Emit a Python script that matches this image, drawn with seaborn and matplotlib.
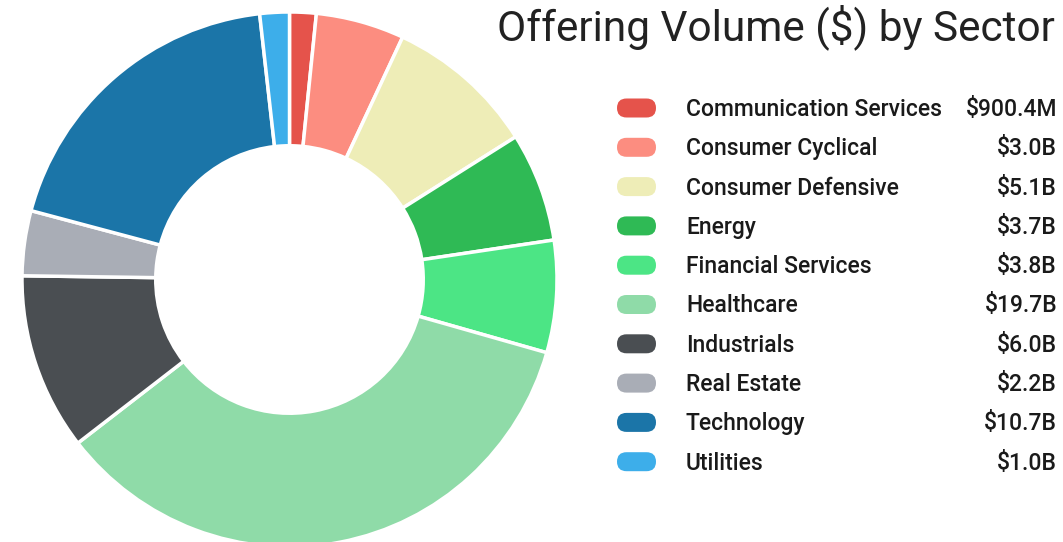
import matplotlib
matplotlib.use("Agg")
import matplotlib.pyplot as plt
import seaborn as sns
from matplotlib.patches import FancyBboxPatch

sns.set_theme(style="white")
plt.rcParams["font.family"] = ["Roboto", "DejaVu Sans"]

# Data
sectors = ["Communication Services", "Consumer Cyclical", "Consumer Defensive",
           "Energy", "Financial Services", "Healthcare", "Industrials",
           "Real Estate", "Technology", "Utilities"]
volume_b = [0.9004, 3.0, 5.1, 3.7, 3.8, 19.7, 6.0, 2.2, 10.7, 1.0]
labels = ["$900.4M", "$3.0B", "$5.1B", "$3.7B", "$3.8B",
          "$19.7B", "$6.0B", "$2.2B", "$10.7B", "$1.0B"]
colors = sns.color_palette(["#e5534b", "#fc8d80", "#eeedb7", "#2fba55", "#4ce585",
                            "#8fdba8", "#4a4e52", "#a9adb6", "#1b75a8", "#3daeea"])

W, H = 1063, 542
fig = plt.figure(figsize=(W / 100, H / 100), dpi=100)
fig.patch.set_facecolor("white")

# donut, center (289.5, 279.5) px, radius 267.5 px
cx, cy, r = 289.5, 279.5, 267.5
ax = fig.add_axes([(cx - r) / W, (H - cy - r) / H, 2 * r / W, 2 * r / H])
ax.pie(volume_b, colors=colors, startangle=90, counterclock=False, radius=1,
       wedgeprops=dict(width=0.5, edgecolor="white", linewidth=2.5))
ax.set_xlim(-1, 1)
ax.set_ylim(-1, 1)
ax.set_aspect("equal")
ax.axis("off")

# title
fig.text(1055 / W, 1 - 27 / H, "Offering Volume ($) by Sector",
         ha="right", va="center", fontsize=30.5, color="#222222")

# legend
y0, dy = 108, 39.3
for i, (name, val, col) in enumerate(zip(sectors, labels, colors)):
    y = y0 + i * dy
    fig.patches.append(FancyBboxPatch((617, H - y - 9.5), 39, 19,
                                      boxstyle="round,pad=0,rounding_size=9.5",
                                      facecolor=col, edgecolor="none",
                                      transform=None, figure=fig))
    fig.text(686 / W, 1 - (y + 1.5) / H, name, ha="left", va="center",
             fontsize=16.5, fontweight="medium", color="#1a1a1a")
    fig.text(1057 / W, 1 - (y + 1.5) / H, val, ha="right", va="center",
             fontsize=16.5, fontweight="medium", color="#1a1a1a")

fig.savefig("out.png", dpi=100, facecolor="white")
